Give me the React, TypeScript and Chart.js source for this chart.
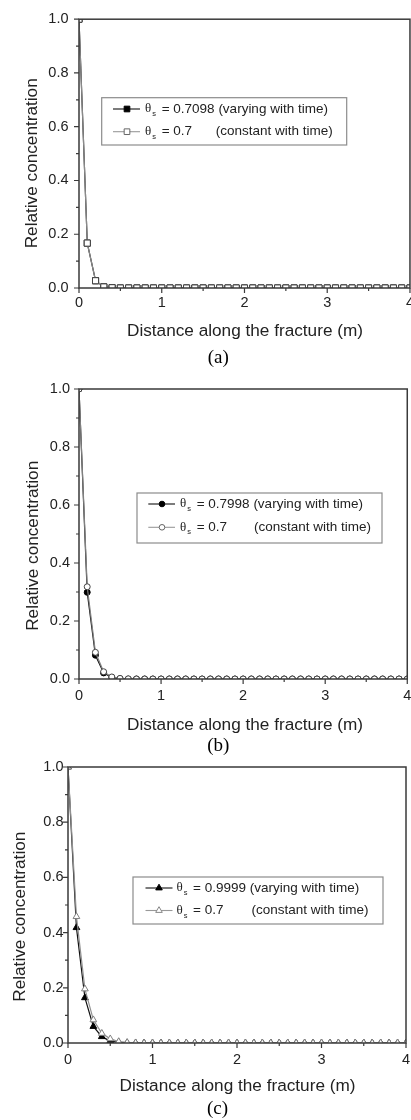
import React, { useEffect, useRef } from 'react';
import { Chart, registerables } from 'chart.js';

Chart.register(...registerables);

// ---------- data ----------
const distanceM = [
  0, 0.1, 0.2, 0.3, 0.4, 0.5, 0.6, 0.7, 0.8, 0.9,
  1.0, 1.1, 1.2, 1.3, 1.4, 1.5, 1.6, 1.7, 1.8, 1.9,
  2.0, 2.1, 2.2, 2.3, 2.4, 2.5, 2.6, 2.7, 2.8, 2.9,
  3.0, 3.1, 3.2, 3.3, 3.4, 3.5, 3.6, 3.7, 3.8, 3.9,
  4.0,
];

const aVarying = [
  1.0, 0.167, 0.027, 0.004, 0.001, 0, 0, 0, 0, 0,
  0, 0, 0, 0, 0, 0, 0, 0, 0, 0,
  0, 0, 0, 0, 0, 0, 0, 0, 0, 0,
  0, 0, 0, 0, 0, 0, 0, 0, 0, 0,
  0,
];
const aConstant = [
  1.0, 0.167, 0.027, 0.004, 0.001, 0, 0, 0, 0, 0,
  0, 0, 0, 0, 0, 0, 0, 0, 0, 0,
  0, 0, 0, 0, 0, 0, 0, 0, 0, 0,
  0, 0, 0, 0, 0, 0, 0, 0, 0, 0,
  0,
];
const bVarying = [
  1.0, 0.299, 0.082, 0.021, 0.005, 0.001, 0, 0, 0, 0,
  0, 0, 0, 0, 0, 0, 0, 0, 0, 0,
  0, 0, 0, 0, 0, 0, 0, 0, 0, 0,
  0, 0, 0, 0, 0, 0, 0, 0, 0, 0,
  0,
];
const bConstant = [
  1.0, 0.318, 0.092, 0.025, 0.007, 0.002, 0.0005, 0, 0, 0,
  0, 0, 0, 0, 0, 0, 0, 0, 0, 0,
  0, 0, 0, 0, 0, 0, 0, 0, 0, 0,
  0, 0, 0, 0, 0, 0, 0, 0, 0, 0,
  0,
];
const cVarying = [
  1.0, 0.418, 0.164, 0.06, 0.023, 0.007, 0.002, 0.0005, 0, 0,
  0, 0, 0, 0, 0, 0, 0, 0, 0, 0,
  0, 0, 0, 0, 0, 0, 0, 0, 0, 0,
  0, 0, 0, 0, 0, 0, 0, 0, 0, 0,
  0,
];
const cConstant = [
  1.0, 0.458, 0.196, 0.084, 0.035, 0.015, 0.005, 0.002, 0.0005, 0,
  0, 0, 0, 0, 0, 0, 0, 0, 0, 0,
  0, 0, 0, 0, 0, 0, 0, 0, 0, 0,
  0, 0, 0, 0, 0, 0, 0, 0, 0, 0,
  0,
];

const yTickValues = [0, 0.2, 0.4, 0.6, 0.8, 1.0];
const yMinorTicks = [0.1, 0.3, 0.5, 0.7, 0.9];
const xTickValues = [0, 1, 2, 3, 4];
const xMinorTicks = [0.5, 1.5, 2.5, 3.5];

const thetaVarying = ['0.7098', '0.7998', '0.9999'];
const thetaConstant = ['0.7', '0.7', '0.7'];
const varyingNote = '(varying with time)';
const constantNote = '(constant with time)';
const captions = ['(a)', '(b)', '(c)'];
const xTitle = 'Distance along the fracture (m)';
const yTitle = 'Relative concentration';

const seriesVarying = [aVarying, bVarying, cVarying];
const seriesConstant = [aConstant, bConstant, cConstant];

// ---------- layout / style ----------
const SANS = '"Liberation Sans", Arial, sans-serif';
const SERIF = '"Liberation Serif", "Times New Roman", serif';
const TEXT = '#222';
const AXIS = '#3a3a3a';
const CANVAS_W = 420;

const PANELS = [
  {
    canvasTop: 0, canvasH: 370, padTop: 15, left: 79, right: 410, plotBottom: 288,
    xPad: 6, yPad: 10.5,
    style: 'rect', radius: 4.3, legendRadius: 4,
    constLine: '#8a8a8a', constStroke: '#444', legConstLine: '#999', legConstStroke: '#666',
    yTitleX: 32.7, yTitleY: 163.3, xTitleX: 245, xTitleY: 331.7, capX: 218.3, capY: 358.3,
    legend: { l: 101.7, t: 97.7, r: 346.7, b: 145, row1: 109, row2: 131.7, l1: 113, l2: 140, mk: 127, th: 145, eq: 161.7, note: 215.7 },
  },
  {
    canvasTop: 370, canvasH: 387, padTop: 19, left: 79, right: 410, plotBottom: 679,
    xPad: 8.7, yPad: 9,
    style: 'circle', radius: 3, legendRadius: 2.8,
    constLine: '#808080', constStroke: '#444', legConstLine: '#999', legConstStroke: '#666',
    yTitleX: 33.3, yTitleY: 545.8, xTitleX: 245, xTitleY: 725, capX: 218.3, capY: 746,
    legend: { l: 137, t: 493, r: 382, b: 543, row1: 504, row2: 527.3, l1: 148.3, l2: 175, mk: 162, th: 180, eq: 196.7, note: 254 },
  },
  {
    canvasTop: 745, canvasH: 375, padTop: 22, left: 68, right: 406, plotBottom: 1043,
    xPad: 8, yPad: 4.5,
    style: 'triangle', radius: 3.9, legendRadius: 3.8,
    constLine: '#909090', constStroke: '#808080', legConstLine: '#999', legConstStroke: '#888',
    yTitleX: 20, yTitleY: 916.7, xTitleX: 237.5, xTitleY: 1086.7, capX: 217.5, capY: 1109,
    legend: { l: 133, t: 877, r: 383, b: 924, row1: 888, row2: 910.5, l1: 145.5, l2: 172.5, mk: 159, th: 176.5, eq: 193, note: 251.5 },
  },
];

function drawMarker(ctx: CanvasRenderingContext2D, style: string, x: number, y: number, r: number, fill: string, stroke: string) {
  ctx.beginPath();
  if (style === 'rect') {
    const s = r * Math.SQRT1_2;
    ctx.rect(x - s, y - s, 2 * s, 2 * s);
  } else if (style === 'circle') {
    ctx.arc(x, y, r, 0, Math.PI * 2);
  } else {
    let rad = 0;
    ctx.moveTo(x + Math.sin(rad) * r, y - Math.cos(rad) * r);
    rad += (2 * Math.PI) / 3;
    ctx.lineTo(x + Math.sin(rad) * r, y - Math.cos(rad) * r);
    rad += (2 * Math.PI) / 3;
    ctx.lineTo(x + Math.sin(rad) * r, y - Math.cos(rad) * r);
    ctx.closePath();
  }
  ctx.fillStyle = fill;
  ctx.fill();
  ctx.lineWidth = 1;
  ctx.strokeStyle = stroke;
  ctx.stroke();
}

function makeDecorPlugin(i: number) {
  const p = PANELS[i];
  const oy = p.canvasTop;
  return {
    id: 'decor' + i,
    afterDatasetsDraw(chart: any) {
      const { ctx, chartArea: ca, scales } = chart;
      const xs = scales.x;
      const ys = scales.y;
      ctx.save();
      // frame
      ctx.strokeStyle = AXIS;
      ctx.lineWidth = 1.5;
      ctx.strokeRect(ca.left, ca.top, ca.right - ca.left, ca.bottom - ca.top);
      // ticks
      ctx.lineWidth = 1.2;
      ctx.beginPath();
      yTickValues.forEach((v) => {
        const py = ys.getPixelForValue(v);
        ctx.moveTo(ca.left, py);
        ctx.lineTo(ca.left - 5, py);
      });
      yMinorTicks.forEach((v) => {
        const py = ys.getPixelForValue(v);
        ctx.moveTo(ca.left, py);
        ctx.lineTo(ca.left - 3, py);
      });
      xTickValues.forEach((v) => {
        const px = xs.getPixelForValue(v);
        ctx.moveTo(px, ca.bottom);
        ctx.lineTo(px, ca.bottom + 5);
      });
      xMinorTicks.forEach((v) => {
        const px = xs.getPixelForValue(v);
        ctx.moveTo(px, ca.bottom);
        ctx.lineTo(px, ca.bottom + 3);
      });
      ctx.stroke();

      // legend
      const L = p.legend;
      ctx.fillStyle = '#fff';
      ctx.fillRect(L.l, L.t - oy, L.r - L.l, L.b - L.t);
      ctx.strokeStyle = '#8c8c8c';
      ctx.lineWidth = 1.2;
      ctx.strokeRect(L.l, L.t - oy, L.r - L.l, L.b - L.t);

      const rows = [
        { y: L.row1 - oy, line: '#111', fill: '#000', stroke: '#000', val: thetaVarying[i], note: varyingNote, inline: true },
        { y: L.row2 - oy, line: p.legConstLine, fill: '#fff', stroke: p.legConstStroke, val: thetaConstant[i], note: constantNote, inline: false },
      ];
      rows.forEach((row) => {
        ctx.strokeStyle = row.line;
        ctx.lineWidth = 1.1;
        ctx.beginPath();
        ctx.moveTo(L.l1, row.y);
        ctx.lineTo(L.l2, row.y);
        ctx.stroke();
        drawMarker(ctx, p.style, L.mk, row.y, p.legendRadius, row.fill, row.stroke);
        ctx.fillStyle = TEXT;
        ctx.textBaseline = 'middle';
        ctx.textAlign = 'left';
        ctx.font = '13px ' + SERIF;
        ctx.fillText('θ', L.th, row.y);
        const tw = ctx.measureText('θ').width;
        ctx.font = '7.5px ' + SANS;
        ctx.fillText('s', L.th + tw + 1, row.y + 5);
        ctx.font = '13.5px ' + SANS;
        if (row.inline) {
          ctx.fillText('= ' + row.val + ' ' + row.note, L.eq, row.y);
        } else {
          ctx.fillText('= ' + row.val, L.eq, row.y);
          ctx.fillText(row.note, L.note, row.y);
        }
      });

      // axis titles
      ctx.fillStyle = TEXT;
      ctx.font = '17.2px ' + SANS;
      ctx.textAlign = 'center';
      ctx.textBaseline = 'middle';
      ctx.fillText(xTitle, p.xTitleX, p.xTitleY - oy);
      ctx.save();
      ctx.translate(p.yTitleX, p.yTitleY - oy);
      ctx.rotate(-Math.PI / 2);
      ctx.fillText(yTitle, 0, 0);
      ctx.restore();

      // caption
      ctx.font = '19px ' + SERIF;
      ctx.fillStyle = '#000';
      ctx.fillText(captions[i], p.capX, p.capY - oy);

      ctx.restore();
    },
  };
}

function Panel({ index }: { index: number }) {
  const ref = useRef<HTMLCanvasElement | null>(null);
  const p = PANELS[index];

  useEffect(() => {
    if (!ref.current) return;
    const varying = seriesVarying[index];
    const constant = seriesConstant[index];
    const chart = new Chart(ref.current, {
      type: 'line',
      data: {
        datasets: [
          {
            label: 'constant',
            data: distanceM.map((x, k) => ({ x, y: constant[k] })),
            borderColor: p.constLine,
            borderWidth: 1.2,
            pointStyle: p.style as any,
            pointRadius: p.radius,
            pointBackgroundColor: '#fff',
            pointBorderColor: p.constStroke,
            pointBorderWidth: 1,
            tension: 0,
            clip: 0,
          } as any,
          {
            label: 'varying',
            data: distanceM.map((x, k) => ({ x, y: varying[k] })),
            borderColor: '#111',
            borderWidth: 1.2,
            pointStyle: p.style as any,
            pointRadius: p.radius,
            pointBackgroundColor: '#000',
            pointBorderColor: '#000',
            pointBorderWidth: 1,
            tension: 0,
            clip: 0,
          } as any,
        ],
      },
      options: {
        responsive: false,
        animation: false,
        devicePixelRatio: 1,
        events: [],
        layout: {
          padding: { top: p.padTop, left: 0, right: CANVAS_W - p.right, bottom: 0 },
        },
        plugins: {
          legend: { display: false },
          tooltip: { enabled: false },
        },
        scales: {
          x: {
            type: 'linear',
            position: 'bottom',
            min: 0,
            max: 4,
            afterBuildTicks: (s: any) => {
              s.ticks = xTickValues.map((v) => ({ value: v }));
            },
            afterFit: (s: any) => {
              s.height = p.canvasH - (p.plotBottom - p.canvasTop);
            },
            grid: { display: false, drawTicks: false },
            border: { display: false },
            ticks: {
              padding: p.xPad,
              color: TEXT,
              font: { family: SANS, size: 14.5 },
              maxRotation: 0,
              autoSkip: false,
              callback: (v: any) => String(v),
            },
          },
          y: {
            type: 'linear',
            min: 0,
            max: 1,
            afterBuildTicks: (s: any) => {
              s.ticks = yTickValues.map((v) => ({ value: v }));
            },
            afterFit: (s: any) => {
              s.width = p.left;
            },
            grid: { display: false, drawTicks: false },
            border: { display: false },
            ticks: {
              padding: p.yPad,
              color: TEXT,
              font: { family: SANS, size: 14.5 },
              autoSkip: false,
              callback: (v: any) => Number(v).toFixed(1),
            },
          },
        },
      } as any,
      plugins: [makeDecorPlugin(index)],
    });
    return () => chart.destroy();
  }, [index]);

  return (
    <canvas
      ref={ref}
      width={CANVAS_W}
      height={p.canvasH}
      style={{ position: 'absolute', left: 0, top: p.canvasTop, width: CANVAS_W, height: p.canvasH }}
    />
  );
}

export default function App() {
  return (
    <div
      style={{
        position: 'absolute',
        left: 0,
        top: 0,
        width: 411,
        height: 1120,
        overflow: 'hidden',
        background: '#fff',
      }}
    >
      <Panel index={0} />
      <Panel index={1} />
      <Panel index={2} />
    </div>
  );
}
